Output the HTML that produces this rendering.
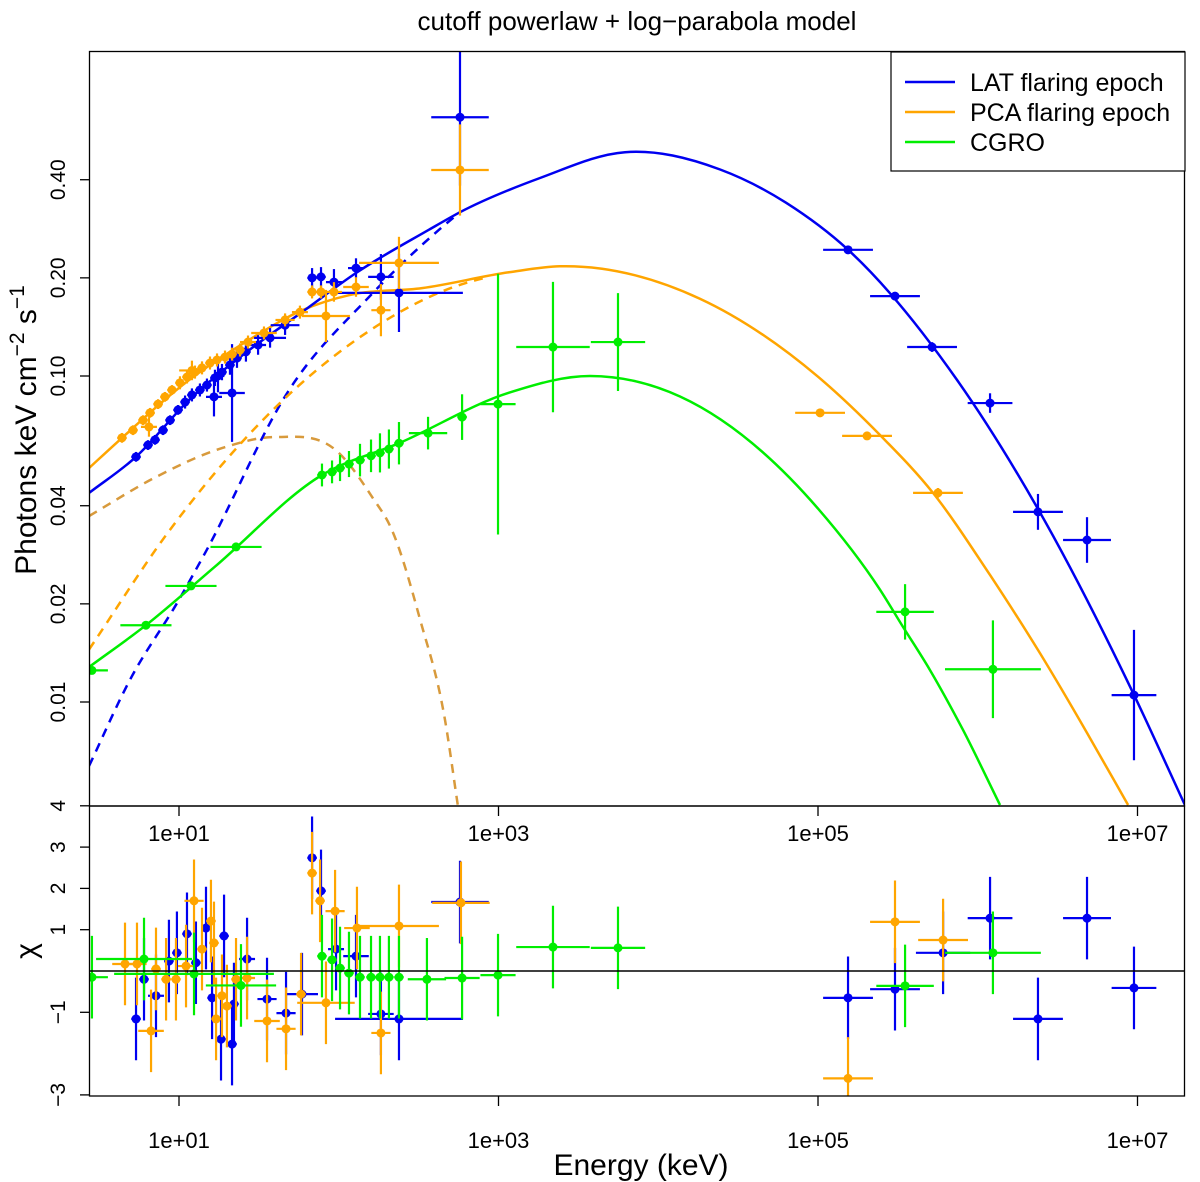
<!DOCTYPE html>
<html><head><meta charset="utf-8">
<style>
body{margin:0;background:#fff;}
svg{display:block;font-family:"Liberation Sans",Arial,sans-serif;}
</style></head>
<body>
<svg id="chart" width="1200" height="1182" viewBox="0 0 1200 1182" xmlns="http://www.w3.org/2000/svg">
<defs>
<clipPath id="clipTop"><rect x="89" y="51" width="1096" height="755"/></clipPath>
<clipPath id="clipBot"><rect x="89" y="806" width="1096" height="290"/></clipPath>
</defs>
<rect width="1200" height="1182" fill="#fff"/>
<text x="637" y="30" font-size="26" text-anchor="middle">cutoff powerlaw + log−parabola model</text>
<g id="topMarks" clip-path="url(#clipTop)"></g>
<g id="botMarks" clip-path="url(#clipBot)"></g>
<g id="axes"></g>
<text transform="translate(36,430) rotate(-90)" font-size="30" text-anchor="middle">Photons keV cm<tspan dy="-12" font-size="21">−2</tspan><tspan dy="12"> s</tspan><tspan dy="-12" font-size="21">−1</tspan></text>
<text transform="translate(36,951) rotate(-90)" font-size="30" text-anchor="middle">χ</text>
<text x="641" y="1175" font-size="30" text-anchor="middle">Energy (keV)</text>
<g>
<rect x="891" y="52" width="294" height="119" fill="#fff" stroke="#000" stroke-width="1.2"/>
<line x1="905" y1="82" x2="955" y2="82" stroke="#0000f0" stroke-width="2.5"/>
<text x="970" y="91" font-size="25">LAT flaring epoch</text>
<line x1="905" y1="112" x2="955" y2="112" stroke="#ffa500" stroke-width="2.5"/>
<text x="970" y="121" font-size="25">PCA flaring epoch</text>
<line x1="905" y1="142" x2="955" y2="142" stroke="#00ee00" stroke-width="2.5"/>
<text x="970" y="151" font-size="25">CGRO</text>
</g>
</svg>
<script>
// ---- model curves (log10 energy keV, flux) ----
const blueModelLogE=[0.437,0.731,1.063,1.438,1.770,2.108,2.565,2.759,3.260,3.792,4.387,4.8,5.188,5.870,6.371,6.972,7.297];
const blueModelFlux=[0.0438,0.0565,0.0844,0.120,0.157,0.207,0.281,0.318,0.405,0.486,0.430,0.340,0.244,0.0973,0.0396,0.01067,0.00483];
const orangeModelLogE=[0.437,0.643,1.063,1.438,1.770,2.064,2.521,3.066,3.385,4.261,5.0,5.388,5.720,6.077,6.390,6.684,6.941];
const orangeModelFlux=[0.0522,0.0646,0.0972,0.129,0.159,0.177,0.186,0.208,0.217,0.1726,0.0995,0.0659,0.0438,0.0245,0.0141,0.00804,0.00483];
const greenModelLogE=[0.437,0.793,1.225,1.895,2.377,3.066,3.573,4.136,5.0,5.388,5.532,5.701,5.908,6.139];
const greenModelFlux=[0.0128,0.0172,0.0260,0.0497,0.0622,0.0889,0.100,0.0865,0.0392,0.0221,0.0170,0.01253,0.0082,0.00483];
const blueDashLogE=[0.437,0.693,1.0,1.169,1.689,2.189,2.628,2.759];
const blueDashFlux=[0.00637,0.0117,0.0206,0.0290,0.0906,0.1746,0.281,0.318];
const orangeDashLogE=[0.437,0.956,1.607,2.108,2.797,2.915];
const orangeDashFlux=[0.0145,0.0344,0.0804,0.129,0.193,0.200];
const humpLogE=[0.437,0.856,1.269,1.607,2.002,2.208,2.333,2.509,2.665,2.746];
const humpFlux=[0.0372,0.049,0.0601,0.065,0.058,0.0426,0.0337,0.0179,0.00881,0.0048];

// ---- spectral data points ----
const blueLogE=[0.731,0.806,0.850,0.900,0.944,0.994,1.038,1.081,1.131,1.175,1.225,1.269,1.319,1.363,1.419,1.219,1.332,1.244,1.495,1.570,1.664,1.833,1.889,1.970,2.108,2.264,2.377,2.759,5.188,5.482,5.714,6.077,6.377,6.684,6.978];
const blueFlux=[0.0565,0.0614,0.0637,0.0682,0.0732,0.0787,0.0832,0.0875,0.0906,0.0938,0.0987,0.1028,0.1081,0.1135,0.1186,0.0863,0.0887,0.100,0.1245,0.1309,0.1432,0.200,0.2014,0.1941,0.2143,0.2014,0.1799,0.622,0.2438,0.1758,0.1227,0.0826,0.0383,0.0314,0.0105];
const blueXErr=[0.03,0.03,0.03,0.03,0.03,0.03,0.03,0.03,0.03,0.03,0.03,0.03,0.03,0.03,0.03,0.05,0.08,0.04,0.05,0.1,0.09,0.03,0.03,0.05,0.05,0.08,0.4,0.18,0.156,0.156,0.156,0.14,0.156,0.15,0.14];
const blueYErr=[0.015,0.015,0.015,0.015,0.015,0.015,0.02,0.02,0.02,0.02,0.025,0.025,0.03,0.03,0.03,0.06,0.15,0.05,0.03,0.03,0.03,0.03,0.03,0.04,0.03,0.07,0.12,0.21,0.01,0.012,0.015,0.03,0.055,0.07,0.2];
const orangeLogE=[0.643,0.712,0.775,0.819,0.869,0.912,0.956,1.006,1.050,1.100,1.144,1.194,1.238,1.288,1.332,1.382,0.812,1.081,1.432,1.532,1.664,1.757,1.833,1.889,1.970,1.920,2.108,2.264,2.377,2.759,5.013,5.307,5.751];
const orangeFlux=[0.0646,0.0682,0.0732,0.0771,0.0820,0.0863,0.0906,0.0953,0.0993,0.1028,0.1059,0.1096,0.1120,0.1143,0.1167,0.1202,0.0698,0.1040,0.1271,0.1355,0.1486,0.157,0.1811,0.1811,0.1811,0.1528,0.1875,0.1592,0.2223,0.4285,0.0771,0.0655,0.0438];
const orangeXErr=[0.03,0.03,0.03,0.03,0.03,0.03,0.03,0.03,0.03,0.03,0.03,0.03,0.03,0.03,0.03,0.03,0.05,0.08,0.05,0.08,0.06,0.05,0.03,0.03,0.05,0.15,0.08,0.06,0.25,0.18,0.156,0.156,0.156];
const orangeYErr=[0.015,0.015,0.015,0.015,0.015,0.015,0.015,0.02,0.02,0.02,0.02,0.02,0.02,0.02,0.02,0.02,0.03,0.03,0.02,0.02,0.02,0.02,0.02,0.02,0.03,0.08,0.03,0.08,0.08,0.14,0.01,0.01,0.015];
const greenLogE=[0.455,0.793,1.075,1.357,1.895,1.958,2.008,2.064,2.133,2.202,2.258,2.314,2.377,2.559,2.772,2.997,3.341,3.748,5.545,6.095];
const greenFlux=[0.0125,0.0172,0.0227,0.0299,0.0497,0.0508,0.0522,0.0537,0.0552,0.0569,0.0581,0.0597,0.0622,0.0668,0.0748,0.0820,0.1227,0.1271,0.0189,0.0126];
const greenXErr=[0.1,0.16,0.16,0.16,0.03,0.03,0.03,0.03,0.03,0.03,0.03,0.03,0.03,0.12,0.03,0.11,0.23,0.17,0.18,0.3];
const greenYErr=[0.01,0.01,0.01,0.01,0.035,0.035,0.04,0.04,0.05,0.05,0.06,0.06,0.065,0.05,0.07,0.4,0.2,0.15,0.085,0.15];

// ---- residuals (chi), errors are +-1 ----
const blueResLogE=[0.731,0.781,0.856,0.937,0.987,1.050,1.106,1.169,1.207,1.263,1.282,1.332,1.344,1.426,1.551,1.670,1.770,1.833,1.889,1.983,2.108,2.264,2.377,2.759,5.188,5.482,5.783,6.077,6.377,6.684,6.978];
const blueResChi=[-1.16,-0.2,-0.6,0.24,0.44,0.9,0.2,1.04,-0.65,-1.65,0.85,-1.77,-0.8,0.29,-0.68,-1.02,-0.56,2.74,1.94,0.53,0.36,-1.04,-1.16,1.67,-0.65,-0.44,0.44,1.28,-1.16,1.28,-0.41];
const blueResXErr=[0.03,0.03,0.05,0.03,0.03,0.03,0.03,0.03,0.03,0.03,0.03,0.03,0.03,0.05,0.06,0.06,0.1,0.03,0.03,0.05,0.08,0.08,0.4,0.18,0.156,0.156,0.17,0.14,0.156,0.15,0.14];
const orangeResLogE=[0.662,0.737,0.825,0.856,0.919,0.981,1.044,1.094,1.144,1.200,1.219,1.232,1.269,1.300,1.357,1.426,1.551,1.670,1.764,1.833,1.883,1.920,1.977,2.114,2.264,2.377,2.765,5.188,5.482,5.783];
const orangeResChi=[0.17,0.17,-1.45,0.05,-0.2,-0.2,0.12,1.7,0.53,1.21,0.68,-1.16,-0.6,-0.85,-0.2,-0.17,-1.21,-1.4,-0.56,2.37,1.7,-0.77,1.45,1.04,-1.5,1.09,1.65,-2.6,1.19,0.75];
const orangeResXErr=[0.08,0.06,0.08,0.03,0.03,0.03,0.05,0.06,0.03,0.03,0.03,0.03,0.03,0.03,0.03,0.05,0.08,0.06,0.03,0.03,0.03,0.18,0.06,0.08,0.06,0.25,0.18,0.156,0.156,0.156];
const greenResLogE=[0.455,0.781,1.094,1.388,1.895,1.958,2.008,2.064,2.133,2.202,2.258,2.314,2.377,2.552,2.772,2.997,3.341,3.748,5.545,6.095];
const greenResChi=[-0.15,0.29,-0.07,-0.35,0.36,0.27,0.07,-0.05,-0.15,-0.15,-0.15,-0.15,-0.15,-0.2,-0.17,-0.1,0.58,0.56,-0.36,0.44];
const greenResXErr=[0.1,0.3,0.5,0.22,0.03,0.03,0.03,0.03,0.03,0.03,0.03,0.03,0.03,0.12,0.11,0.11,0.23,0.17,0.18,0.3];

// ---- ticks ----
const xTickLogE=[1,3,5,7];
const xTickLabels=["1e+01","1e+03","1e+05","1e+07"];
const yTickFlux=[0.01,0.02,0.04,0.10,0.20,0.40];
const yTickLabels=["0.01","0.02","0.04","0.10","0.20","0.40"];
const chiTicks=[4,3,2,1,-1,-3];
const chiTickLabels=["4","3","2","1","−1","−3"];

const BLUE="#0000f0",ORANGE="#ffa500",GREEN="#00ee00",HUMP="#d89a3c";
function xPos(le){return 179+(le-1)*159.75;}
function yTop(f){return 376-(Math.log10(f)+1)*326;}
function yChi(c){return 971-c*41.3;}
const NS="http://www.w3.org/2000/svg";
function mk(tag,attrs,parent){const e=document.createElementNS(NS,tag);for(const k in attrs)e.setAttribute(k,attrs[k]);parent.appendChild(e);return e;}
const topG=document.getElementById('topMarks'),botG=document.getElementById('botMarks'),axG=document.getElementById('axes');

function smoothPath(pts){
  const n=pts.length,m=new Array(n);
  const d=[];for(let i=0;i<n-1;i++)d.push((pts[i+1][1]-pts[i][1])/(pts[i+1][0]-pts[i][0]));
  m[0]=d[0];m[n-1]=d[n-2];
  for(let i=1;i<n-1;i++){
    const h0=pts[i][0]-pts[i-1][0],h1=pts[i+1][0]-pts[i][0];
    m[i]=(d[i-1]*h1+d[i]*h0)/(h0+h1);
  }
  let s="M"+pts[0][0].toFixed(1)+","+pts[0][1].toFixed(1);
  for(let i=0;i<n-1;i++){
    const h=(pts[i+1][0]-pts[i][0])/3;
    s+=" C"+(pts[i][0]+h).toFixed(1)+","+(pts[i][1]+m[i]*h).toFixed(1)+" "+(pts[i+1][0]-h).toFixed(1)+","+(pts[i+1][1]-m[i+1]*h).toFixed(1)+" "+pts[i+1][0].toFixed(1)+","+pts[i+1][1].toFixed(1);
  }
  return s;
}
function curve(le,fl,color,dash,name){
  const pts=le.map((v,i)=>[xPos(v),yTop(fl[i])]);
  const p=mk('path',{d:smoothPath(pts),fill:'none',stroke:color,'stroke-width':2.5,'stroke-dasharray':dash||'none'},topG);
  
  
}
curve(humpLogE,humpFlux,HUMP,"9,7","hump-dashed-component");
curve(blueDashLogE,blueDashFlux,BLUE,"9,7","lat-dashed-component");
curve(orangeDashLogE,orangeDashFlux,ORANGE,"9,7","pca-dashed-component");
curve(greenModelLogE,greenModelFlux,GREEN,null,"cgro-model-curve");
curve(orangeModelLogE,orangeModelFlux,ORANGE,null,"pca-model-curve");
curve(blueModelLogE,blueModelFlux,BLUE,null,"lat-model-curve");

function pointsTop(le,fl,xe,ye,color,name){
  le.forEach((v,i)=>{
    const g=mk('g',{},topG);
    
    
    const x=xPos(v),y=yTop(fl[i]);
    const lf=Math.log10(fl[i]);
    mk('line',{x1:xPos(v-xe[i]),x2:xPos(v+xe[i]),y1:y,y2:y,stroke:color,'stroke-width':2.2},g);
    mk('line',{x1:x,x2:x,y1:376-(lf+ye[i]+1)*326,y2:376-(lf-ye[i]+1)*326,stroke:color,'stroke-width':2.2},g);
    mk('circle',{cx:x,cy:y,r:4.5,fill:color},g);
  });
}
function pointsBot(le,chi,xe,color,name){
  le.forEach((v,i)=>{
    const g=mk('g',{},botG);
    
    
    const x=xPos(v),y=yChi(chi[i]);
    mk('line',{x1:xPos(v-xe[i]),x2:xPos(v+xe[i]),y1:y,y2:y,stroke:color,'stroke-width':2.2},g);
    mk('line',{x1:x,x2:x,y1:yChi(chi[i]+1),y2:yChi(chi[i]-1),stroke:color,'stroke-width':2.2},g);
    mk('circle',{cx:x,cy:y,r:4.5,fill:color},g);
  });
}
pointsTop(blueLogE,blueFlux,blueXErr,blueYErr,BLUE,"lat-data-point");
pointsTop(orangeLogE,orangeFlux,orangeXErr,orangeYErr,ORANGE,"pca-data-point");
pointsTop(greenLogE,greenFlux,greenXErr,greenYErr,GREEN,"cgro-data-point");
pointsBot(blueResLogE,blueResChi,blueResXErr,BLUE,"lat-residual");
pointsBot(orangeResLogE,orangeResChi,orangeResXErr,ORANGE,"pca-residual");
pointsBot(greenResLogE,greenResChi,greenResXErr,GREEN,"cgro-residual");
const zl=mk('line',{x1:89,x2:1185,y1:yChi(0),y2:yChi(0),stroke:'#000','stroke-width':1.5},botG);



const f1=mk('rect',{x:89.5,y:51.5,width:1095,height:754.5,fill:'none',stroke:'#000','stroke-width':1.3},axG);


const f2=mk('rect',{x:89.5,y:806,width:1095,height:290,fill:'none',stroke:'#000','stroke-width':1.3},axG);



yTickFlux.forEach((f,i)=>{
  const y=yTop(f);
  mk('line',{x1:80,x2:89,y1:y,y2:y,stroke:'#000','stroke-width':1.3},axG);
  const t=mk('text',{transform:`translate(65,${y}) rotate(-90)`,'font-size':21,'text-anchor':'middle'},axG);
  t.textContent=yTickLabels[i];
  
  
});
chiTicks.forEach((c,i)=>{
  const y=yChi(c);
  mk('line',{x1:80,x2:89,y1:y,y2:y,stroke:'#000','stroke-width':1.3},axG);
  const t=mk('text',{transform:`translate(65,${y}) rotate(-90)`,'font-size':21,'text-anchor':'middle'},axG);
  t.textContent=chiTickLabels[i];
  
  
});
xTickLogE.forEach((v,i)=>{
  const x=xPos(v);
  mk('line',{x1:x,x2:x,y1:1096,y2:1106,stroke:'#000','stroke-width':1.3},axG);
  const t=mk('text',{x:x,y:1148,'font-size':22,'text-anchor':'middle'},axG);
  t.textContent=xTickLabels[i];
  
  
  mk('line',{x1:x,x2:x,y1:806,y2:816,stroke:'#000','stroke-width':1.3},axG);
  const t2=mk('text',{x:x,y:841,'font-size':22,'text-anchor':'middle'},axG);
  t2.textContent=xTickLabels[i];
  
  
});
</script>
</body></html>
